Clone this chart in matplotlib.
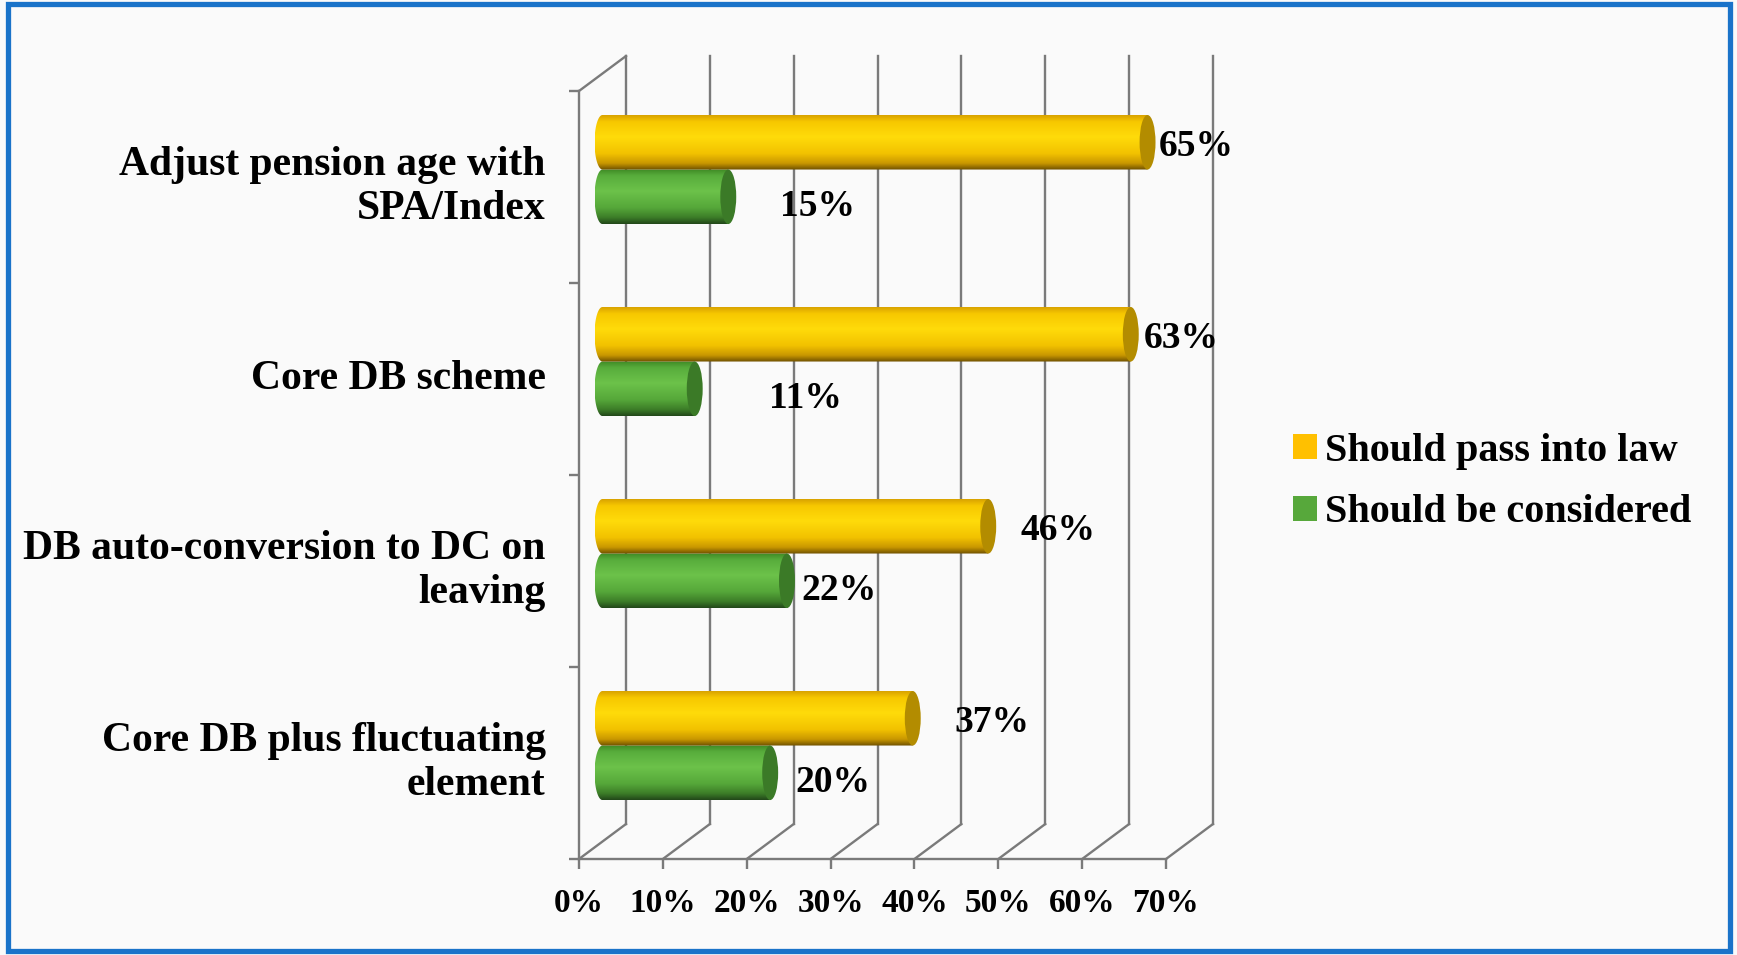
import numpy as np
import matplotlib
matplotlib.use("Agg")
import matplotlib.pyplot as plt
from matplotlib.path import Path
from matplotlib.patches import PathPatch, Ellipse, Rectangle, Patch
from matplotlib.transforms import Affine2D

categories = ['Adjust pension age with\nSPA/Index', 'Core DB scheme',
              'DB auto-conversion to DC on\nleaving', 'Core DB plus fluctuating\nelement']
should_pass = [65, 63, 46, 37]
considered = [15, 11, 22, 20]
series_names = ['Should pass into law', 'Should be considered']
xticks = [0, 10, 20, 30, 40, 50, 60, 70]

plt.rcParams['font.family'] = ['Liberation Serif', 'DejaVu Serif']
plt.rcParams['font.weight'] = 'bold'

grey = '#7A7A7A'
yellow_stops = ['#D9A300', '#F7C800', '#FFDB0A', '#F2C200', '#C99700', '#6E5000']
green_stops = ['#3F8A25', '#58AD3C', '#6CC24A', '#56A83A', '#3D7E28', '#22481A']
stop_pos = [0, 0.12, 0.4, 0.7, 0.88, 1.0]
yellow_cap = '#B38C00'
green_cap = '#3B7A27'

fig = plt.figure(figsize=(17.37, 9.55), dpi=100)
fig.patch.set_facecolor('#FAFAFA')
ax = fig.add_axes([579 / 1737, 96 / 955, 587 / 1737, 768 / 955])
ax.axis('off')

n = len(categories)
ypos = np.arange(n)[::-1]          # top category drawn highest
depth_x, depth_y = 5.6, 0.182       # 3d depth in data units
bar_h = 0.284
cap_a = 0.95

back = Affine2D().translate(depth_x, depth_y) + ax.transData
mid = Affine2D().translate(depth_x / 2, depth_y / 2) + ax.transData

# walls / floor
lo, hi = -0.5, n - 0.5
for v in xticks:
    ax.plot([v, v], [lo, hi], color=grey, lw=1.7, transform=back, clip_on=False, zorder=1)
    ax.plot([v, v + depth_x], [lo, lo + depth_y], color=grey, lw=1.7, clip_on=False, zorder=1)
ax.plot([0, 70], [lo, lo], color=grey, lw=1.7, clip_on=False)
ax.plot([0, 0], [lo, hi], color=grey, lw=1.7, clip_on=False)
ax.plot([0, depth_x], [hi, hi + depth_y], color=grey, lw=1.7, clip_on=False)
ax.plot(xticks, [lo] * len(xticks), ls='none', marker=3, ms=7, mew=1.7, color=grey, clip_on=False)
ax.plot([0] * (n + 1), np.arange(n + 1) - 0.5, ls='none', marker=0, ms=7, mew=1.7, color=grey, clip_on=False)


def gradient(stops):
    t = np.linspace(0, 1, 120)
    rgb = np.array([matplotlib.colors.to_rgb(c) for c in stops])
    cols = np.stack([np.interp(t, stop_pos, rgb[:, k]) for k in range(3)], axis=-1)
    return cols[:, None, :]


def cylinder(yc, value, stops, cap_color):
    top, bot = yc + bar_h / 2, yc - bar_h / 2
    th = np.linspace(np.pi / 2, 3 * np.pi / 2, 50)
    xs = cap_a * np.cos(th)
    ys = yc + bar_h / 2 * np.sin(th)
    verts = list(zip(xs, ys)) + [(value, bot), (value, top), (xs[0], ys[0])]
    clip = PathPatch(Path(verts), transform=mid, fc='none', ec='none')
    ax.add_patch(clip)
    im = ax.imshow(gradient(stops), extent=(-cap_a, value, bot, top), transform=mid,
                   aspect='auto', origin='upper', interpolation='bilinear', zorder=3)
    im.set_clip_path(clip)
    ax.add_patch(Ellipse((value, yc), 2 * cap_a, bar_h, transform=mid,
                         fc=cap_color, ec='none', zorder=4))


for i in range(n):
    yy = ypos[i] + bar_h / 2
    yg = ypos[i] - bar_h / 2
    cylinder(yg, considered[i], green_stops, green_cap)
    cylinder(yy, should_pass[i], yellow_stops, yellow_cap)
    # Excel's 3d label placement drifts with the value
    ax.annotate(f'{should_pass[i]}%', (should_pass[i], yy), xycoords=mid,
                xytext=((119.5 - 1.09 * should_pass[i]) * 0.72, -3),
                textcoords='offset points', ha='center', va='center', fontsize=27)
    ax.annotate(f'{considered[i]}%', (considered[i], yg), xycoords=mid,
                xytext=((170.5 - 5.39 * considered[i]) * 0.72, -7),
                textcoords='offset points', ha='center', va='center', fontsize=27)
    ax.annotate(categories[i], (0, ypos[i]), xytext=(-24, 0), textcoords='offset points',
                ha='right', va='center', fontsize=30, linespacing=1.22)

for v in xticks:
    ax.annotate(f'{v}%', (v, lo), xytext=(0, -32), textcoords='offset points',
                ha='center', va='center', fontsize=24)

ax.set_xlim(0, 70)
ax.set_ylim(lo, hi)

handles = [Patch(facecolor='#FFC000'), Patch(facecolor='#57A83B')]
fig.legend(handles, series_names, loc='center left', bbox_to_anchor=(1293 / 1737, 1 - 482 / 955),
           frameon=False, fontsize=29, handlelength=0.6, handleheight=0.6,
           handletextpad=0.2, labelspacing=0.62, borderpad=0, borderaxespad=0)

fig.add_artist(Rectangle((7.5 / 1737, 4.5 / 955), 1722 / 1737, 946 / 955, transform=fig.transFigure,
                         fill=False, ec='#1A73C9', lw=3.8))

fig.savefig('out.png', dpi=100, facecolor=fig.get_facecolor())
